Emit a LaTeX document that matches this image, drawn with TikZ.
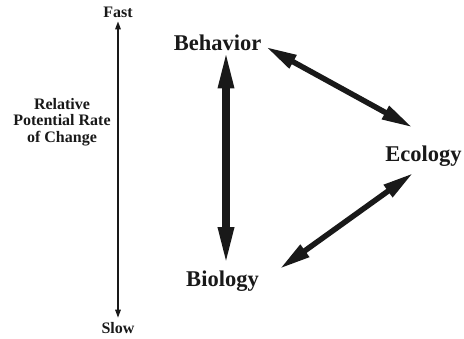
\documentclass[tikz,border=0pt]{standalone}
\usepackage{fontspec}
\setmainfont{Liberation Serif}
\usetikzlibrary{arrows.meta}
\tikzset{
  klein/.style={font=\fontsize{16}{17}\selectfont\bfseries, inner sep=1pt, text=black!90},
  gross/.style={font=\fontsize{22.5}{26}\selectfont\bfseries, inner sep=1pt, text=black!90},
  skala/.style={draw=black!90, line width=1.4pt, {Triangle[length=8pt,width=5.5pt]}-{Triangle[length=8pt,width=5.5pt]}},
  dickpfeil/.style={draw=black!90, line width=8pt, {Triangle[length=41pt,width=14pt]}-{Triangle[length=41pt,width=14pt]}},
  pfeil/.style={draw=black!90, line width=5.5pt, {Triangle[length=31pt,width=14pt]}-{Triangle[length=31pt,width=14pt]}}
}
\begin{document}
\begin{tikzpicture}[x=1pt, y=-1pt, line join=miter]
  \useasboundingbox (0,0) rectangle (464,338);
  % Skala links
  \node[klein, anchor=base] (fast) at (118,17) {Fast};
  \node[klein, anchor=base] (slow) at (118,333) {Slow};
  \node[klein, align=center, anchor=base] (rate) at (62,142) {Relative\\[-0.5pt]Potential Rate\\[-0.5pt]of Change};
  \draw[skala] ([yshift=-3pt]fast.south) -- ([yshift=3pt]slow.north);
  % Begriffe
  \node[gross, anchor=base] (behavior) at (217.5,50) {Behavior};
  \node[gross, anchor=base] (ecology) at (423.5,161) {Ecology};
  \node[gross, anchor=base] (biology) at (222.5,286) {Biology};
  % Doppelpfeile
  \draw[dickpfeil] ([shift={(8.5pt,4pt)}]behavior.south) -- ([shift={(3.5pt,1pt)}]biology.north);
  \draw[pfeil] ([shift={(3.5pt,-4.6pt)}]behavior.east) -- ([shift={(-11pt,16.8pt)}]ecology.north);
  \draw[pfeil] ([shift={(19.8pt,11.9pt)}]biology.east) -- ([shift={(-10.3pt,-5.9pt)}]ecology.south);
\end{tikzpicture}
\end{document}
